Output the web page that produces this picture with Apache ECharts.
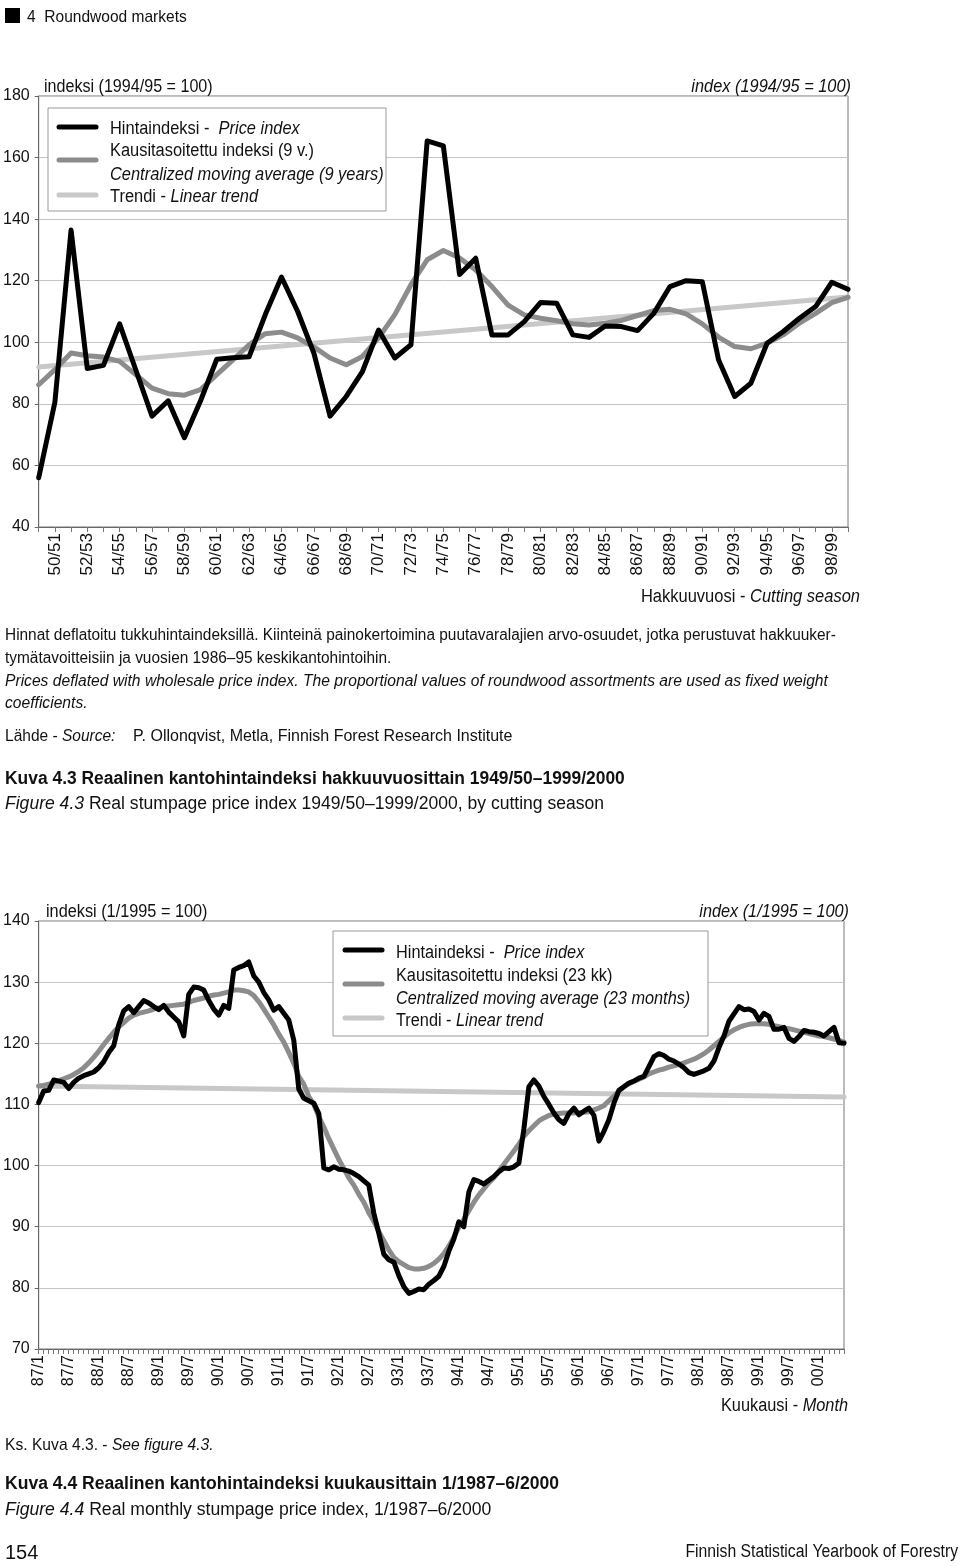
<!DOCTYPE html>
<html>
<head>
<meta charset="utf-8">
<script src="https://cdn.jsdelivr.net/npm/echarts@6/dist/echarts.min.js"></script>
<style>
html,body{margin:0;padding:0;background:#fff;}
#c{width:960px;height:1566px;}
</style>
</head>
<body>
<div id="c"></div>
<script>
// ---------- Figure 4.3 : cutting seasons ----------
const seasons = ['49/50','50/51','51/52','52/53','53/54','54/55','55/56','56/57','57/58','58/59',
 '59/60','60/61','61/62','62/63','63/64','64/65','65/66','66/67','67/68','68/69',
 '69/70','70/71','71/72','72/73','73/74','74/75','75/76','76/77','77/78','78/79',
 '79/80','80/81','81/82','82/83','83/84','84/85','85/86','86/87','87/88','88/89',
 '89/90','90/91','91/92','92/93','93/94','94/95','95/96','96/97','97/98','98/99','99/00'];
const priceSeason = [56, 80.5, 136.5, 91.5, 92.5, 106, 91, 76, 81, 69,
 81, 94.5, 95, 95.3, 109, 121.2, 110, 96.5, 76, 82.4,
 90.5, 104, 94.9, 99.2, 165.4, 163.8, 122, 127.3, 102.4, 102.4,
 106.7, 112.9, 112.7, 102.4, 101.6, 105.3, 105.1, 103.8, 109.4, 118.1,
 120, 119.7, 94.3, 82.4, 86.7, 99.7, 103.5, 107.8, 111.6, 119.5, 117.2];
const maSeason = [86.2, 91.1, 96.5, 95.6, 95.2, 93.8, 89.5, 85.1, 83.3, 82.8,
 84.6, 89.5, 94.3, 99.2, 102.8, 103.3, 101.4, 98.5, 94.9, 92.7,
 95.4, 101.4, 109, 118.7, 126.8, 129.8, 127.4, 123.5, 118.1, 112.1,
 108.9, 107.8, 107, 106, 105.6, 106.2, 107.1, 108.7, 110.3, 110.7,
 109.2, 106, 101.7, 98.6, 97.9, 99.7, 102.4, 106.2, 109.4, 112.9, 114.6];
const trendSeason = [[0, 92.0], [50, 114.7]];
const yTicks1 = {min: 40, max: 180, interval: 20};

// ---------- Figure 4.4 : months 1/1987 - 6/2000 ----------
const monthYears = ['87','88','89','90','91','92','93','94','95','96','97','98','99','00'];
const months = [];
monthYears.forEach(function (y, k) {
  const n = (k === monthYears.length - 1) ? 6 : 12;
  for (let m = 1; m <= n; m++) months.push(y + '/' + m);
});
const priceMonth = [
 110.3,112.2,112.3,114.0,113.8,113.6,112.6,113.6,114.3,114.7,115.0,115.3,
 116.0,117.0,118.5,119.6,123.0,125.3,126.0,125.0,126.0,127.0,126.6,126.0,
 125.5,126.2,125.1,124.3,123.5,121.2,128.0,129.2,129.1,128.7,127.0,125.6,
 124.6,126.2,125.7,132.0,132.4,132.7,133.3,131.0,130.0,128.3,127.1,125.4,
 126.0,124.9,123.8,120.5,112.5,111.0,110.6,110.2,108.5,99.6,99.3,99.8,
 99.4,99.3,99.1,98.7,98.2,97.5,96.8,92.2,88.9,85.5,84.6,84.2,
 82.0,80.2,79.1,79.4,79.8,79.7,80.6,81.2,81.9,83.5,86.0,88.0,
 90.8,90.0,95.7,97.7,97.4,97.0,97.6,98.2,99.0,99.6,99.5,99.8,
 100.4,106.0,112.9,114.0,113.0,111.3,110.0,108.6,107.5,106.9,108.5,109.4,
 108.3,108.9,109.4,108.2,104.0,105.6,107.5,110.2,112.3,112.9,113.5,113.8,
 114.3,114.6,116.2,117.8,118.3,118.0,117.4,117.1,116.6,116.0,115.2,114.9,
 115.2,115.5,115.9,117.1,119.3,121.2,123.6,124.8,126.0,125.5,125.6,125.2,
 123.8,124.9,124.4,122.3,122.3,122.6,120.8,120.3,121.1,122.1,121.9,121.8,
 121.6,121.2,121.9,122.6,120.1,120.0];
const maMonth = [
 113.0,113.1,113.3,113.6,113.9,114.2,114.5,114.9,115.4,116.0,116.8,117.7,
 118.7,119.8,120.8,121.8,122.7,123.4,124.1,124.6,124.9,125.1,125.3,125.6,
 125.8,126.0,126.1,126.2,126.3,126.4,126.7,127.0,127.2,127.4,127.7,127.9,
 128.0,128.2,128.4,128.7,128.7,128.6,128.4,127.8,126.8,125.6,124.3,123.0,
 121.5,120.2,118.5,116.7,114.6,113.3,111.3,110.0,108.0,106.3,104.4,102.7,
 101.0,99.5,98.0,96.8,95.3,94.0,92.3,90.9,89.2,87.7,86.2,85.0,
 84.3,83.8,83.3,83.1,83.1,83.2,83.5,84.0,84.7,85.6,86.8,88.3,
 89.9,91.2,92.6,94.0,95.2,96.2,97.2,98.0,99.1,100.2,101.3,102.4,
 103.5,104.8,105.7,106.5,107.3,107.8,108.2,108.4,108.5,108.6,108.6,108.6,
 108.7,108.7,108.8,109.1,109.4,109.8,110.6,111.3,112.2,112.9,113.4,113.8,
 114.1,114.5,115.0,115.3,115.6,115.8,116.1,116.3,116.5,116.8,117.1,117.4,
 117.8,118.3,118.9,119.6,120.3,121.0,121.7,122.2,122.6,122.9,123.1,123.2,
 123.2,123.2,123.1,122.9,122.7,122.5,122.4,122.2,122.0,121.8,121.6,121.4,
 121.2,121.1,120.9,120.7,120.5,120.2];
const trendMonth = [[0, 113.0], [161, 111.2]];
const yTicks2 = {min: 70, max: 140, interval: 10};

// ---------- styles ----------
const F = '"Liberation Sans","Arial",sans-serif';
const C_BLACK = '#000000', C_MA = '#8c8c8c', C_TREND = '#c8c8c8';
const TXT = '#111111';

function yAxisCfg(idx, t) {
  return {
    type: 'value', gridIndex: idx, min: t.min, max: t.max, interval: t.interval,
    axisLine: {show: true, lineStyle: {color: '#666', width: 1}},
    axisTick: {show: true, length: 4, lineStyle: {color: '#666'}},
    axisLabel: {color: TXT, fontFamily: F, fontSize: 16, margin: 9},
    splitLine: {show: true, lineStyle: {color: '#c4c4c4', width: 1}}
  };
}
function xAxisCfg(idx, data, every, fs) {
  return {
    type: 'category', gridIndex: idx, data: data, boundaryGap: false,
    axisLine: {show: true, lineStyle: {color: '#666', width: 1}},
    axisTick: {show: true, interval: 0, length: 5, lineStyle: {color: '#777'}},
    axisLabel: {interval: function (i) { return every(i); }, rotate: 90, color: TXT,
      fontFamily: F, fontSize: fs, margin: 6},
    splitLine: {show: false}
  };
}
function lineS(name, xi, data, color, z) {
  return {type: 'line', name: name, xAxisIndex: xi, yAxisIndex: xi, data: data,
    symbol: 'none', smooth: false, z: z, silent: true,
    lineStyle: {color: color, width: 5, cap: 'round', join: 'round'}};
}
function txt(x, y, s, opt) {
  opt = opt || {};
  const fs = opt.fs || 17;
  return {type: 'text', x: x, y: y, silent: true, z: 100,
    scaleX: opt.sx || 1, scaleY: 1, originX: 0, originY: 0,
    style: {text: s, fontFamily: F, fontSize: fs, fill: TXT,
      textAlign: opt.align || 'left', textVerticalAlign: 'middle',
      rich: {i: {fontStyle: 'italic', fontFamily: F, fontSize: fs, fill: TXT},
             b: {fontWeight: 'bold', fontFamily: F, fontSize: fs, fill: TXT}}}};
}
function seg(x1, x2, y, color) {
  return {type: 'line', silent: true, z: 101, shape: {x1: x1, y1: y, x2: x2, y2: y},
    style: {stroke: color, lineWidth: 5, lineCap: 'round'}};
}
function box(x, y, w, h) {
  return {type: 'rect', silent: true, z: 99, shape: {x: x, y: y, width: w, height: h},
    style: {fill: '#fff', stroke: '#999', lineWidth: 1}};
}

const graphics = [
  {type: 'rect', silent: true, shape: {x: 5, y: 8, width: 15, height: 15}, style: {fill: '#000'}},
  txt(27, 17, '4  Roundwood markets', {fs: 17, sx: 0.914}),
  // chart 1 axis names
  txt(44, 87, 'indeksi (1994/95 = 100)', {fs: 18, sx: 0.894}),
  txt(851, 87, '{i|index (1994/95 = 100)}', {fs: 18, align: 'right', sx: 0.909}),
  txt(860, 597, 'Hakkuuvuosi - {i|Cutting season}', {fs: 18, align: 'right', sx: 0.916}),
  // legend 1
  box(48, 108, 338, 103),
  seg(59, 96, 127, C_BLACK), seg(59, 96, 160, C_MA), seg(59, 96, 195, C_TREND),
  txt(110, 129, 'Hintaindeksi -  {i|Price index}', {fs: 18, sx: 0.912}),
  txt(110, 151, 'Kausitasoitettu indeksi (9 v.)', {fs: 18, sx: 0.912}),
  txt(110, 175, '{i|Centralized moving average (9 years)}', {fs: 18, sx: 0.912}),
  txt(110, 197, 'Trendi - {i|Linear trend}', {fs: 18, sx: 0.912}),
  // notes under chart 1
  txt(5, 636, 'Hinnat deflatoitu tukkuhintaindeksillä. Kiinteinä painokertoimina puutavaralajien arvo-osuudet, jotka perustuvat hakkuuker-', {fs: 16, sx: 0.963}),
  txt(5, 659, 'tymätavoitteisiin ja vuosien 1986–95 keskikantohintoihin.', {fs: 16, sx: 0.963}),
  txt(5, 682, '{i|Prices deflated with wholesale price index. The proportional values of roundwood assortments are used as fixed weight}', {fs: 16, sx: 0.977}),
  txt(5, 704, '{i|coefficients.}', {fs: 16, sx: 0.977}),
  txt(5, 737, 'Lähde - {i|Source:}', {fs: 16, sx: 0.97}),
  txt(133, 737, 'P. Ollonqvist, Metla, Finnish Forest Research Institute', {fs: 16, sx: 1}),
  txt(5, 779, '{b|Kuva 4.3 Reaalinen kantohintaindeksi hakkuuvuosittain 1949/50–1999/2000}', {fs: 18, sx: 0.968}),
  txt(5, 804, '{i|Figure 4.3} Real stumpage price index 1949/50–1999/2000, by cutting season', {fs: 18, sx: 0.975}),
  // chart 2 axis names
  txt(46, 912, 'indeksi (1/1995 = 100)', {fs: 18, sx: 0.904}),
  txt(849, 912, '{i|index (1/1995 = 100)}', {fs: 18, align: 'right', sx: 0.904}),
  txt(848, 1406, 'Kuukausi - {i|Month}', {fs: 18, align: 'right', sx: 0.907}),
  // legend 2
  box(333, 931, 375, 105),
  seg(345, 382, 950, C_BLACK), seg(345, 382, 984, C_MA), seg(345, 382, 1018, C_TREND),
  txt(396, 953, 'Hintaindeksi -  {i|Price index}', {fs: 18, sx: 0.905}),
  txt(396, 976, 'Kausitasoitettu indeksi (23 kk)', {fs: 18, sx: 0.905}),
  txt(396, 999, '{i|Centralized moving average (23 months)}', {fs: 18, sx: 0.905}),
  txt(396, 1021, 'Trendi - {i|Linear trend}', {fs: 18, sx: 0.905}),
  // notes under chart 2
  txt(5, 1445, 'Ks. Kuva 4.3. - {i|See figure 4.3.}', {fs: 17, sx: 0.92}),
  txt(5, 1484, '{b|Kuva 4.4 Reaalinen kantohintaindeksi kuukausittain 1/1987–6/2000}', {fs: 18, sx: 0.975}),
  txt(5, 1510, '{i|Figure 4.4} Real monthly stumpage price index, 1/1987–6/2000', {fs: 18, sx: 0.978}),
  txt(5, 1553, '154', {fs: 20, sx: 1}),
  txt(958, 1552, 'Finnish Statistical Yearbook of Forestry', {fs: 18, align: 'right', sx: 0.875})
];

const chart = echarts.init(document.getElementById('c'), null, {renderer: 'canvas'});
chart.setOption({
  animation: false,
  backgroundColor: '#fff',
  grid: [
    {left: 36, top: 96, width: 812, height: 431, show: true, borderColor: '#777', borderWidth: 1, containLabel: false},
    {left: 38, top: 921, width: 806, height: 428, show: true, borderColor: '#777', borderWidth: 1, containLabel: false}
  ],
  xAxis: [
    xAxisCfg(0, seasons, function (i) { return i % 2 === 1; }, 17),
    xAxisCfg(1, months, function (i) { return i % 6 === 0; }, 16)
  ],
  yAxis: [yAxisCfg(0, yTicks1), yAxisCfg(1, yTicks2)],
  series: [
    lineS('Trendi - Linear trend', 0, trendSeason, C_TREND, 2),
    lineS('Kausitasoitettu indeksi (9 v.)', 0, maSeason, C_MA, 3),
    lineS('Hintaindeksi - Price index', 0, priceSeason, C_BLACK, 4),
    lineS('Trendi - Linear trend', 1, trendMonth, C_TREND, 2),
    lineS('Kausitasoitettu indeksi (23 kk)', 1, maMonth, C_MA, 3),
    lineS('Hintaindeksi - Price index', 1, priceMonth, C_BLACK, 4)
  ],
  graphic: graphics
});
</script>
</body>
</html>
